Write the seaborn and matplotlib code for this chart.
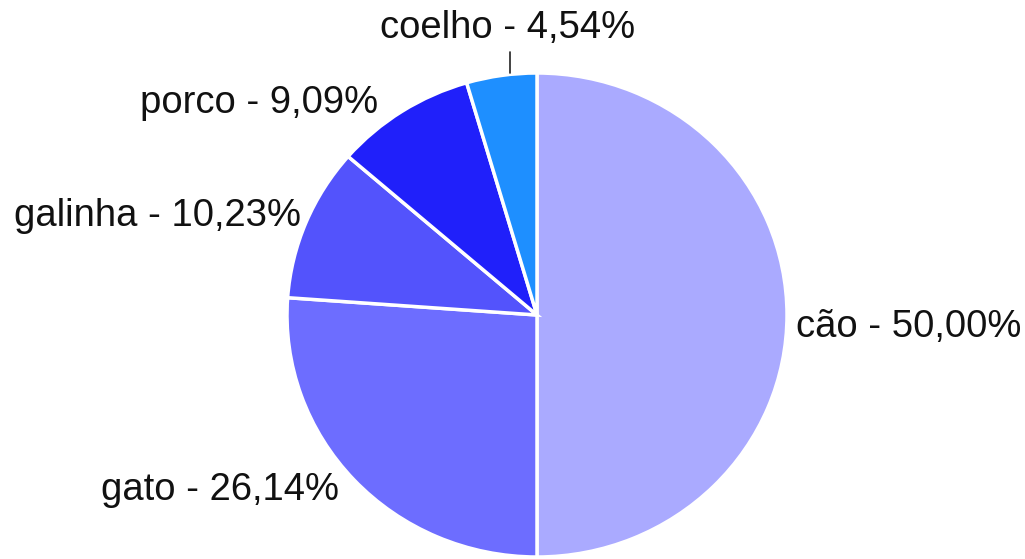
import matplotlib
matplotlib.use("Agg")
import matplotlib.pyplot as plt
import seaborn as sns

# Animal shares (percent)
animals = ["cão", "gato", "galinha", "porco", "coelho"]
shares = [50.00, 26.14, 10.23, 9.09, 4.54]
share_labels = ["50,00%", "26,14%", "10,23%", "9,09%", "4,54%"]
colors = ["#aaaaff", "#6d6dff", "#5353fc", "#2020fa", "#1e8fff"]

sns.set_theme(style="white")
plt.rcParams["font.family"] = ["Liberation Sans", "DejaVu Sans"]

W, H = 1025, 559
YS = 0.968  # vertical squash of the pie

fig = plt.figure(figsize=(W / 100, H / 100), dpi=100)
ax = fig.add_axes([0, 0, 1, 1])


def py(y_top):
    """Convert a pixel row (from top) to data y."""
    return (H - y_top) / YS


cx, cy, r = 537, py(315), 250
ax.pie(shares, colors=colors, startangle=90, counterclock=False,
       center=(cx, cy), radius=r, frame=True,
       wedgeprops=dict(edgecolor="white", linewidth=2.5))
ax.set_aspect("auto")
ax.set_xlim(0, W)
ax.set_ylim(0, H / YS)
ax.axis("off")

# Label placement: x pixel, y pixel row from top, alignment
label_pos = {
    "cão": (796, 327, "left"),
    "gato": (339, 490, "right"),
    "galinha": (301, 216, "right"),
    "porco": (378, 103, "right"),
    "coelho": (508, 28, "center"),
}
for name, pct in zip(animals, share_labels):
    x, y, ha = label_pos[name]
    ax.text(x, py(y), f"{name} - {pct}", ha=ha, va="center",
            fontsize=27.5, color="#111111")

# leader line for the small slice
ax.plot([510, 510], [py(52), py(73)], color="#222222", lw=1.2)

fig.savefig("out.png", dpi=100)
